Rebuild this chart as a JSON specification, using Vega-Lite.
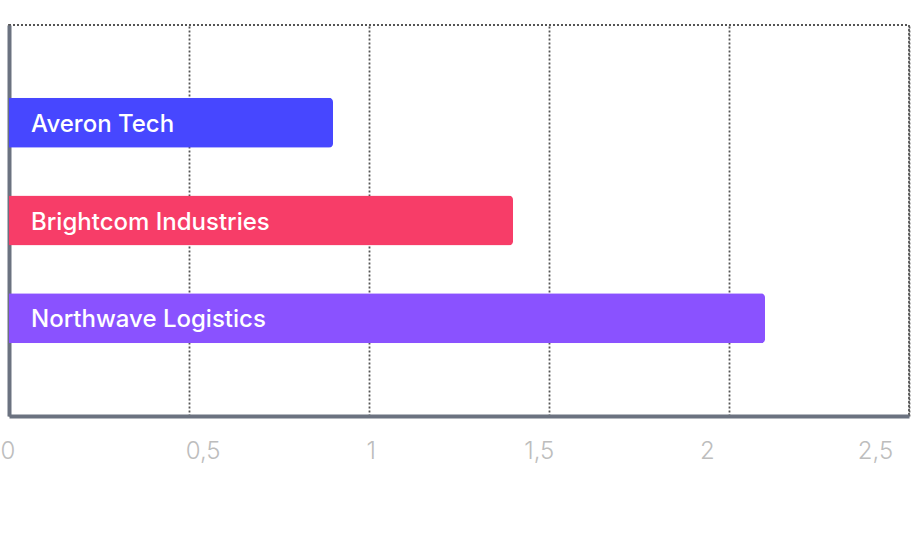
{
  "$schema": "https://vega.github.io/schema/vega-lite/v6.json",
  "width": 900,
  "height": 391,
  "autosize": "none",
  "padding": {"left": 9, "top": 25, "right": 3, "bottom": 128},
  "background": "white",
  "config": {
    "view": {"stroke": "#555555", "strokeDash": [2, 2], "strokeWidth": 1.8},
    "font": "Inter"
  },
  "data": {
    "values": [
      {"company": "Averon Tech", "value": 0.9},
      {"company": "Brightcom Industries", "value": 1.4},
      {"company": "Northwave Logistics", "value": 2.1}
    ]
  },
  "encoding": {
    "y": {
      "field": "company",
      "type": "nominal",
      "sort": null,
      "scale": {"type": "point", "padding": 1},
      "axis": {
        "title": null,
        "labels": false,
        "ticks": false,
        "domainColor": "#6b7280",
        "domainWidth": 4,
        "gridColor": "#555555",
        "gridDash": [2, 2],
        "gridWidth": 1.8
      }
    }
  },
  "layer": [
    {
      "mark": {"type": "bar", "height": 50, "cornerRadiusEnd": 4},
      "encoding": {
        "x": {
          "field": "value",
          "type": "quantitative",
          "scale": {"domain": [0, 2.5], "nice": false},
          "axis": {
            "title": null,
            "values": [0, 0.5, 1, 1.5, 2, 2.5],
            "ticks": false,
            "domainColor": "#6b7280",
            "domainWidth": 4,
            "gridColor": "#555555",
            "gridDash": [2, 2],
            "gridWidth": 1.8,
            "labelExpr": "replace(format(datum.value, '~g'), '.', ',')",
            "labelFont": "Inter",
            "labelFontWeight": 300,
            "labelFontSize": 24,
            "labelColor": "#bdbdbd",
            "labelPadding": 23,
            "labelAlign": "center",
            "labelOffset": {"expr": "datum.value == 0 ? -1.5 : 25.5 - 23.8 * datum.value"}
          }
        },
        "color": {
          "field": "company",
          "type": "nominal",
          "legend": null,
          "scale": {
            "domain": ["Averon Tech", "Brightcom Industries", "Northwave Logistics"],
            "range": ["#4747ff", "#f73d68", "#8a52ff"]
          }
        }
      }
    },
    {
      "mark": {
        "type": "text",
        "align": "left",
        "baseline": "middle",
        "dx": 22,
        "dy": 2,
        "fontSize": 24,
        "fontWeight": 500,
        "font": "Inter",
        "color": "white"
      },
      "encoding": {
        "x": {"datum": 0, "type": "quantitative"},
        "text": {"field": "company"}
      }
    }
  ]
}
